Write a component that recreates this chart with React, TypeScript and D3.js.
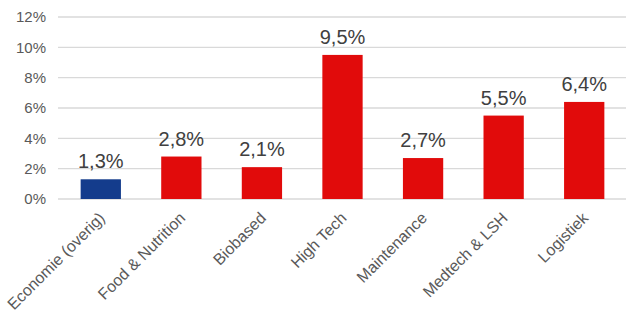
import React from "react";
import * as d3 from "d3";

const categories = ["Economie (overig)", "Food & Nutrition", "Biobased", "High Tech", "Maintenance", "Medtech & LSH", "Logistiek"];
const values = [1.3, 2.8, 2.1, 9.5, 2.7, 5.5, 6.4];
const valueLabels = ["1,3%", "2,8%", "2,1%", "9,5%", "2,7%", "5,5%", "6,4%"];
const yTicks = [0, 2, 4, 6, 8, 10, 12];

const W = 640, H = 319;
const FONT = "Liberation Sans, Arial, sans-serif";

export default function App() {
  const x = d3.scaleBand<string>().domain(categories).range([60.5, 624.5]).paddingInner(0.5).paddingOuter(0.25);
  const y = d3.scaleLinear().domain([0, 12]).range([199, 17]);
  return (
    <svg width={W} height={H} style={{ position: "absolute", left: 0, top: 0, background: "#fff" }} fontFamily={FONT}>
      {yTicks.map((t) => (
        <g key={t}>
          <line x1={58} x2={626} y1={y(t)} y2={y(t)} stroke="#d9d9d9" strokeWidth={1.3} />
          <text x={46} y={y(t)} dy="0.36em" textAnchor="end" fontSize={15} fill="#595959">{t}%</text>
        </g>
      ))}
      {categories.map((c, i) => (
        <g key={c}>
          <rect x={x(c)} y={y(values[i])} width={x.bandwidth()} height={y(0) - y(values[i])} fill={i === 0 ? "#143c8c" : "#e10b0b"} />
          <text x={x(c)! + x.bandwidth() / 2} y={y(values[i]) - 11} textAnchor="middle" fontSize={20} fill="#404040">{valueLabels[i]}</text>
          <text transform={`translate(${x(c)! + x.bandwidth() / 2 + 5},${219}) rotate(-45)`} textAnchor="end" fontSize={16} fill="#595959">{c}</text>
        </g>
      ))}
    </svg>
  );
}
